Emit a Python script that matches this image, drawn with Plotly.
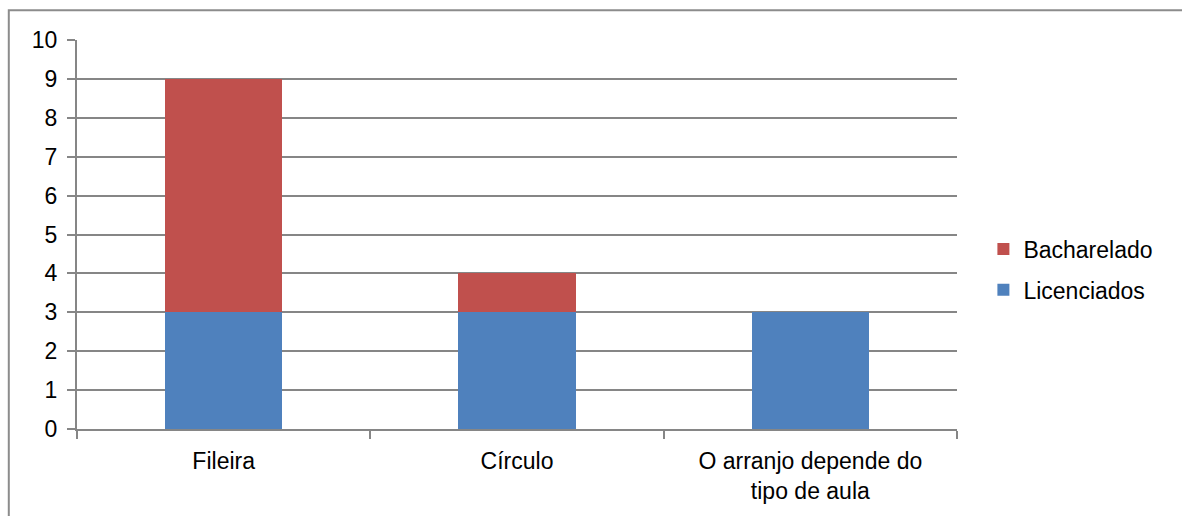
import plotly.graph_objects as go

categories = ["Fileira", "Círculo", "O arranjo depende do<br>tipo de aula"]
licenciados = [3, 3, 3]
bacharelado = [6, 1, 0]
y_ticks = list(range(0, 11))

BLUE = "#4F81BD"
RED = "#C0504D"
GRID = "#868686"
FONT = "Liberation Sans, Arial, sans-serif"

fig = go.Figure()
fig.add_trace(go.Bar(name="Licenciados", x=categories, y=licenciados,
                     legendgroup="lic", legendrank=2,
                     marker=dict(color=BLUE, line=dict(width=0)), width=0.4))
fig.add_trace(go.Bar(name="Bacharelado", x=categories, y=bacharelado,
                     legendgroup="bach", legendrank=1,
                     marker=dict(color=RED, line=dict(width=0)), width=0.4))

fig.update_layout(
    barmode="stack",
    width=1182, height=516,
    margin=dict(l=77, r=225, t=40, b=85),
    paper_bgcolor="white", plot_bgcolor="white",
    font=dict(family=FONT, size=23, color="#000000"),
    showlegend=True,
    legend=dict(traceorder="grouped", x=1.03, xanchor="left",
                y=0.41, yanchor="middle", font=dict(size=23),
                itemwidth=30, tracegroupgap=8),
    xaxis=dict(showgrid=False, showline=True, linecolor=GRID, linewidth=2,
               ticks="outside", tickson="boundaries", ticklen=8,
               tickcolor=GRID, tickwidth=2, tickfont=dict(size=23),
               ticklabelstandoff=10),
    yaxis=dict(range=[0, 10], tickvals=y_ticks, showgrid=True,
               gridcolor=GRID, gridwidth=2, showline=True, linecolor=GRID,
               linewidth=2, ticks="outside", ticklen=8, tickcolor=GRID,
               tickwidth=2, zeroline=False, tickfont=dict(size=23),
               ticklabelstandoff=5),
    shapes=[dict(type="rect", xref="paper", yref="paper",
                 x0=-0.0775, x1=1.6, y0=-0.5, y1=1.0765,
                 line=dict(color="#8C8C8C", width=2), layer="below")],
)

fig.write_html("out.html")
